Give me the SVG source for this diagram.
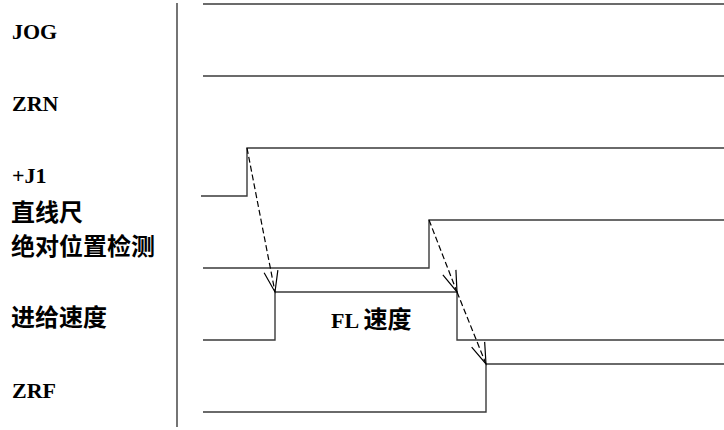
<svg xmlns="http://www.w3.org/2000/svg" width="724" height="430" viewBox="0 0 724 430">
<style>
.sig{fill:none;stroke:#3a3a3a;stroke-width:1.4}
.dash{fill:none;stroke:#000;stroke-width:1.2;stroke-dasharray:6 3}
.lat{font-family:'Liberation Serif',serif;font-weight:700;font-size:22px;fill:#000}
.cjk{font-family:'Noto Sans CJK SC',sans-serif;font-weight:700;font-size:24px;fill:#000}
</style>
<defs>
<marker id="arr" markerUnits="userSpaceOnUse" markerWidth="30" markerHeight="20" refX="0" refY="0" viewBox="-24 -10 30 20" orient="auto">
<path d="M-21,-7 L0,0 L-21,7" fill="none" stroke="#000" stroke-width="1.2"/>
</marker>
</defs>
<rect width="724" height="430" fill="#fff"/>
<line x1="177" y1="3" x2="177" y2="427" class="sig"/>
<g id="labels">
<text id="lbl-jog" x="12" y="39" class="lat">JOG</text>
<text id="lbl-zrn" x="12" y="111" class="lat">ZRN</text>
<text id="lbl-j1" x="12" y="183" class="lat">+J1</text>
<text id="lbl-scale1" x="11" y="221" class="cjk">直线尺</text>
<text id="lbl-scale2" x="11" y="255" class="cjk">绝对位置检测</text>
<text id="lbl-feed" x="11" y="326" class="cjk">进给速度</text>
<text id="lbl-zrf" x="12" y="398" class="lat">ZRF</text>
</g>
<g id="sig-jog"><polyline class="sig" points="203,4 724,4"/></g>
<g id="sig-zrn"><polyline class="sig" points="203,76 724,76"/></g>
<g id="sig-j1"><polyline class="sig" points="201,196 247,196 247,148 724,148"/></g>
<g id="sig-scale"><polyline class="sig" points="203,268 429,268 429,220 724,220"/></g>
<g id="sig-feed"><polyline class="sig" points="203,340 275,340 275,292 457,292 457,340 724,340"/>
<text x="331" y="328"><tspan class="lat">FL </tspan><tspan class="cjk">速度</tspan></text></g>
<g id="sig-zrf"><polyline class="sig" points="203,412 486,412 486,364 724,364"/></g>
<g id="connectors">
<line class="dash" x1="247" y1="148" x2="275" y2="292" marker-end="url(#arr)"/>
<line class="dash" x1="429" y1="220" x2="457" y2="292" marker-end="url(#arr)"/>
<line class="dash" x1="457" y1="292" x2="486" y2="364" marker-end="url(#arr)"/>
</g>
</svg>
